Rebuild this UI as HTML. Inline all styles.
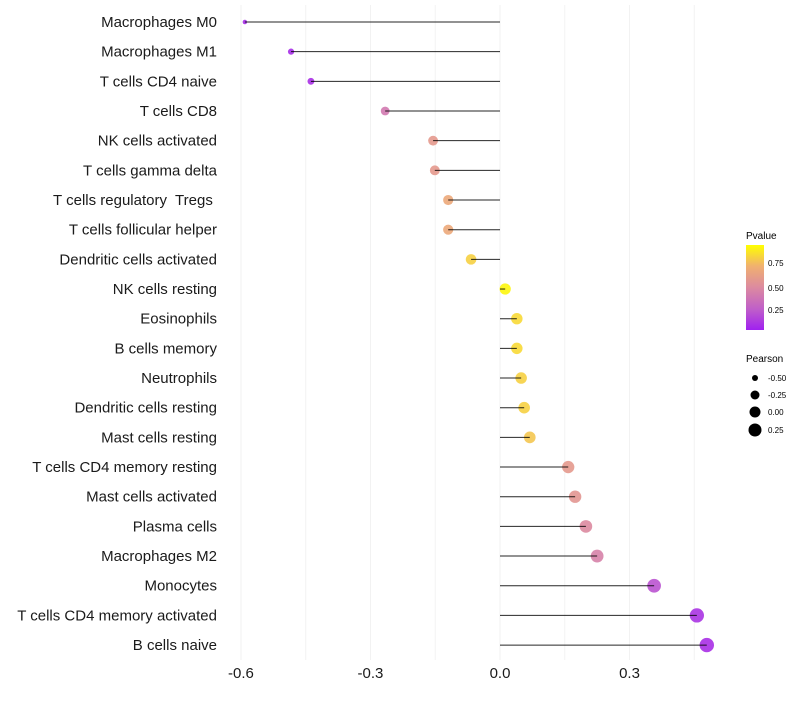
<!DOCTYPE html>
<html><head><meta charset="utf-8"><style>
body{margin:0;background:#fff;font-family:"Liberation Sans",sans-serif;}
svg text{font-family:"Liberation Sans",sans-serif;white-space:pre;}
</style></head><body>
<svg id="chart" width="800" height="700" xmlns="http://www.w3.org/2000/svg">
<defs><linearGradient id="pg" x1="0" y1="1" x2="0" y2="0">
<stop offset="0" stop-color="#a020f0"/><stop offset="0.25" stop-color="#c060c8"/><stop offset="0.5" stop-color="#dc8aa0"/><stop offset="0.75" stop-color="#f0b070"/><stop offset="1" stop-color="#ffff00"/></linearGradient></defs>
<g id="grid"></g>
<g id="dots"></g>
<g id="marks"></g>
<g id="ylabels"></g>
<g id="xlabels"></g>
<g>
<text x="746" y="239" font-size="10">Pvalue</text>
<rect x="746" y="245" width="18" height="85" fill="url(#pg)"/>
<text x="768" y="266" font-size="8">0.75</text>
<text x="768" y="291" font-size="8">0.50</text>
<text x="768" y="313" font-size="8">0.25</text>
</g>
<g>
<text x="746" y="362" font-size="10">Pearson</text>
<circle cx="755" cy="378" r="3" fill="#000"/>
<circle cx="755" cy="395" r="4.5" fill="#000"/>
<circle cx="755" cy="412" r="5.5" fill="#000"/>
<circle cx="755" cy="430" r="6.5" fill="#000"/>
<text x="768" y="381" font-size="8">-0.50</text>
<text x="768" y="398" font-size="8">-0.25</text>
<text x="768" y="415" font-size="8">0.00</text>
<text x="768" y="433" font-size="8">0.25</text>
</g>
</svg>
<script>
const categories=["Macrophages M0","Macrophages M1","T cells CD4 naive","T cells CD8","NK cells activated","T cells gamma delta","T cells regulatory  Tregs ","T cells follicular helper","Dendritic cells activated","NK cells resting","Eosinophils","B cells memory","Neutrophils","Dendritic cells resting","Mast cells resting","T cells CD4 memory resting","Mast cells activated","Plasma cells","Macrophages M2","Monocytes","T cells CD4 memory activated","B cells naive"];
const pearson=[-0.591,-0.484,-0.438,-0.266,-0.155,-0.151,-0.120,-0.120,-0.067,0.012,0.039,0.039,0.049,0.056,0.069,0.158,0.174,0.199,0.225,0.357,0.456,0.479];
const pvalue=[0.05,0.05,0.06,0.4,0.6,0.6,0.7,0.7,0.85,0.97,0.88,0.88,0.85,0.85,0.82,0.6,0.58,0.5,0.45,0.2,0.08,0.06];
const xTicks=[-0.6,-0.3,0.0,0.3];
const xTickLabels=["-0.6","-0.3","0.0","0.3"];
const NS="http://www.w3.org/2000/svg";
const x=v=>500+v*431.7;
const y=i=>22+i*29.67;
const stops=[[0,[160,32,240]],[0.25,[192,96,200]],[0.5,[220,138,160]],[0.75,[240,176,112]],[1,[255,255,0]]];
function col(p){for(let k=1;k<stops.length;k++){if(p<=stops[k][0]){const a=stops[k-1],b=stops[k],t=(p-a[0])/(b[0]-a[0]);return "rgb("+a[1].map((c,j)=>Math.round(c+(b[1][j]-c)*t)).join(",")+")";}}return "rgb(255,255,0)";}
const rad=v=>Math.sqrt(Math.max(31+44*v,2));
function mk(t,a,p){const e=document.createElementNS(NS,t);for(const k in a)e.setAttribute(k,a[k]);p.appendChild(e);return e;}
const grid=document.getElementById('grid'),marks=document.getElementById('marks'),dots=document.getElementById('dots'),yl=document.getElementById('ylabels'),xl=document.getElementById('xlabels');
for(let g=-0.6;g<=0.46;g+=0.15){const l=mk('line',{x1:x(g),x2:x(g),y1:5,y2:660,stroke:'#f2f2f2','stroke-width':1},grid);

}
categories.forEach((c,i)=>{
const ci=mk('circle',{cx:x(pearson[i]),cy:y(i),r:rad(pearson[i]),fill:col(pvalue[i]),'fill-opacity':0.9},dots);


const ln=mk('line',{x1:x(0),x2:x(pearson[i]),y1:y(i),y2:y(i),stroke:'#000','stroke-width':1,'stroke-opacity':0.85},marks);


const t=mk('text',{x:217,y:y(i)+5,'text-anchor':'end','font-size':15,fill:'#1a1a1a'},yl);t.textContent=c;


});
xTicks.forEach((v,i)=>{const t=mk('text',{x:x(v),y:678,'text-anchor':'middle','font-size':15,fill:'#1a1a1a'},xl);t.textContent=xTickLabels[i];

});
</script>
</body></html>
